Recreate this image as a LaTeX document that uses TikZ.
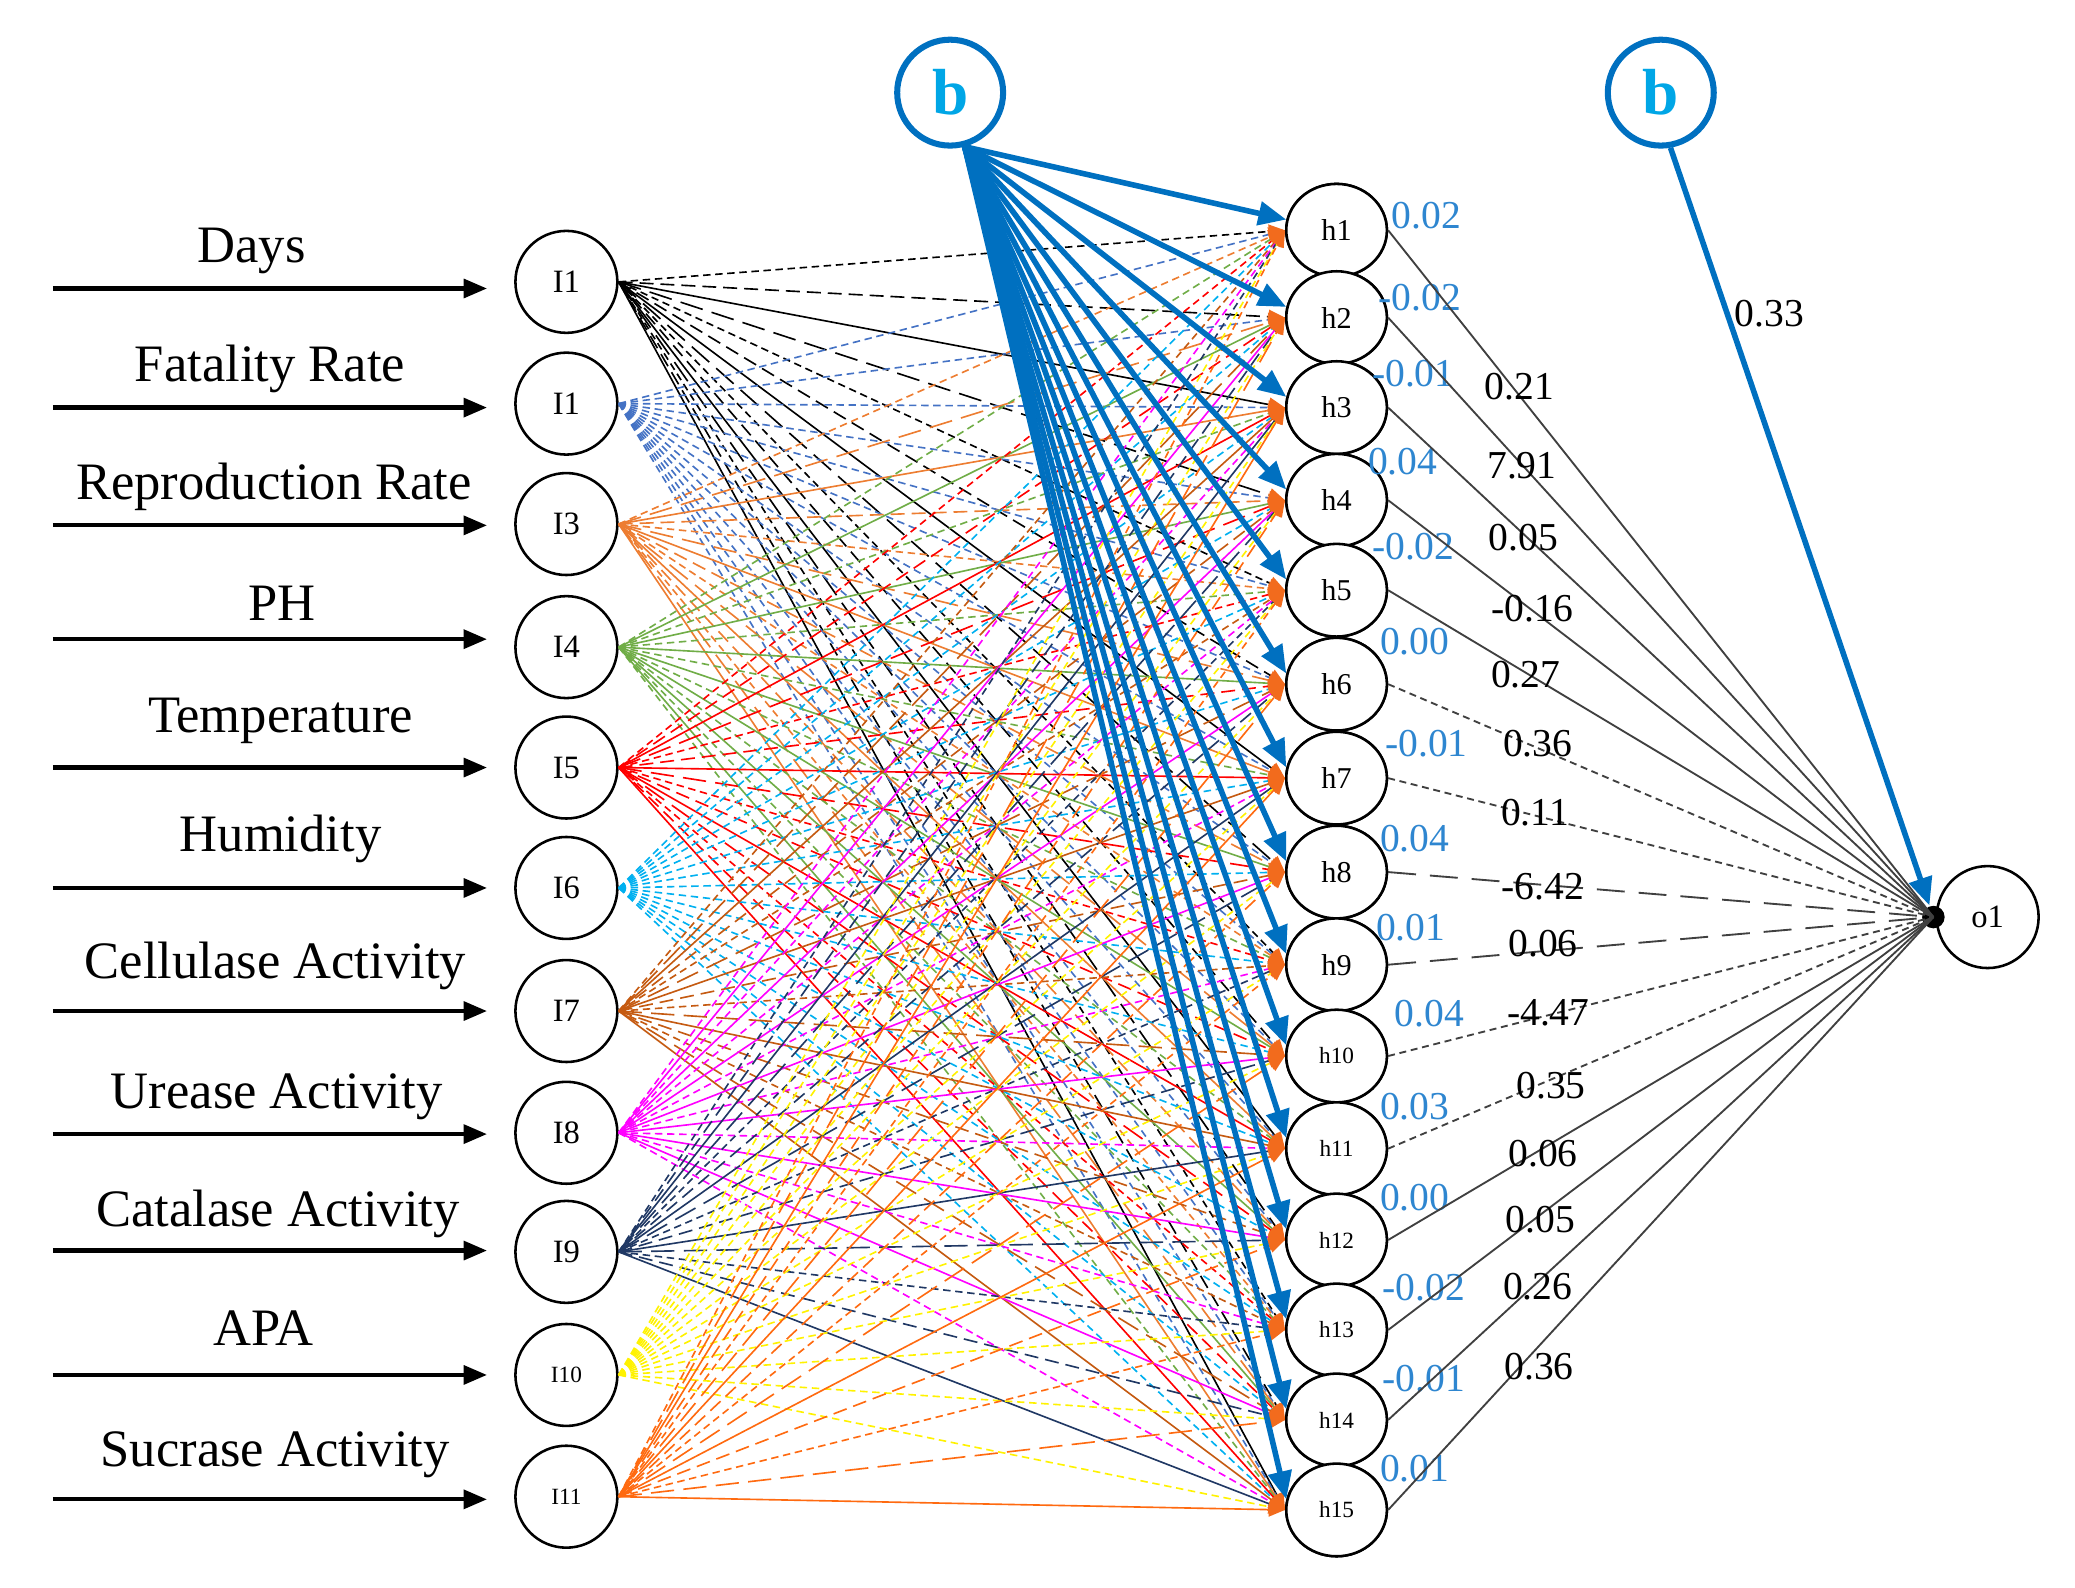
\documentclass[tikz,border=0pt]{standalone}
\usepackage{fontspec}
\setmainfont{Liberation Serif}
\usetikzlibrary{arrows.meta,shapes.geometric}
\definecolor{c1}{HTML}{000000}
\definecolor{c2}{HTML}{4472C4}
\definecolor{c3}{HTML}{ED7D31}
\definecolor{c4}{HTML}{70AD47}
\definecolor{c5}{HTML}{FF0000}
\definecolor{c6}{HTML}{00B0F0}
\definecolor{c7}{HTML}{C55A11}
\definecolor{c8}{HTML}{FF00FF}
\definecolor{c9}{HTML}{203864}
\definecolor{c10}{HTML}{FFF200}
\definecolor{c11}{HTML}{FF6A10}
\definecolor{tiporange}{HTML}{F26B1D}
\definecolor{bblue}{HTML}{0070C0}
\definecolor{bcyan}{HTML}{00A6E6}
\definecolor{wblue}{HTML}{2E86D0}
\definecolor{ogray}{HTML}{404040}
\begin{document}
\begin{tikzpicture}[x=0.01cm,y=-0.01cm,
  inp/.style={circle,draw,line width=0.55pt,minimum size=0.77cm,inner sep=0pt,font=\fontsize{7}{7}\selectfont},
  hid/.style={ellipse,draw,line width=0.55pt,minimum width=0.76cm,minimum height=0.70cm,inner sep=0pt,fill=white,font=\fontsize{6.5}{6.5}\selectfont},
  hids/.style={hid,font=\fontsize{5}{5}\selectfont},
  bias/.style={circle,draw=bblue,line width=1.3pt,minimum size=0.80cm,inner sep=0pt,text=bcyan,font=\fontsize{14}{14}\selectfont\bfseries},
  lab/.style={font=\fontsize{11.3}{11.3}\selectfont,inner sep=0pt},
  inarrow/.style={line width=0.9pt,-{Triangle[length=5pt,width=4pt]}},
  wire/.style={line width=0.35pt,-{Triangle[length=3.5pt,width=3pt,color=tiporange]}},
  bline/.style={draw=bblue,line width=1.2pt,-{Triangle[length=6pt,width=5pt]}},
  oline/.style={draw=ogray,line width=0.4pt},
  hw/.style={text=wblue,font=\fontsize{8.5}{8.5}\selectfont,inner sep=0pt},
  ow/.style={font=\fontsize{8.5}{8.5}\selectfont,inner sep=0pt},
  d0/.style={solid},
  d1/.style={dash pattern=on 3pt off 1.5pt},
  d2/.style={dash pattern=on 1.6pt off 1pt},
  d3/.style={dash pattern=on 5pt off 2pt},
  od/.style={dash pattern=on 1.5pt off 1pt},
  old/.style={dash pattern=on 6pt off 3pt}
]
\useasboundingbox (0,0) rectangle (1568,1200);

% input nodes
\node[inp] (I1) at (428,213) {I1};
\node[inp] (I2) at (428,305) {I1};
\node[inp] (I3) at (428,396) {I3};
\node[inp] (I4) at (428,489) {I4};
\node[inp] (I5) at (428,580) {I5};
\node[inp] (I6) at (428,671) {I6};
\node[inp] (I7) at (428,764) {I7};
\node[inp] (I8) at (428,856) {I8};
\node[inp] (I9) at (428,946) {I9};
\node[inp,font=\fontsize{5}{5}\selectfont] (I10) at (428,1039) {I10};
\node[inp,font=\fontsize{5}{5}\selectfont] (I11) at (428,1131) {I11};

% input labels
\node[lab] (t1) at (190,190) {Days};
\node[lab] (t2) at (204,279) {Fatality Rate};
\node[lab] (t3) at (207,368) {Reproduction Rate};
\node[lab] (t4) at (213,456) {PH};
\node[lab] (t5) at (212,545) {Temperature};
\node[lab] (t6) at (212,634) {Humidity};
\node[lab] (t7) at (208,730) {Cellulase Activity};
\node[lab] (t8) at (209,829) {Urease Activity};
\node[lab] (t9) at (210,917) {Catalase Activity};
\node[lab] (t10) at (199,1004) {APA};
\node[lab] (t11) at (208,1099) {Sucrase Activity};

% input arrows
\foreach \i/\y in {1/218,2/308,3/397,4/483,5/580,6/671,7/764,8/857,9/945,10/1039,11/1133}{
  \coordinate (s\i) at (40,\y);
  \coordinate (e\i) at (368,\y);
  \draw[inarrow] (s\i) -- (e\i);
}

% hidden nodes
\foreach \j/\y in {1/174,2/240,3/308,4/378,5/446,6/517,7/588,8/659,9/729}{
  \node[hid] (h\j) at (1010,\y) {h\j};
}
\foreach \j/\y in {10/798,11/868,12/937,13/1005,14/1073,15/1141}{
  \node[hids] (h\j) at (1010,\y) {h\j};
}

% input -> hidden wires
\foreach \i in {1,...,11}{
  \foreach \j in {1,...,15}{
    \pgfmathtruncatemacro\k{mod(3*\i+2*\j+\i*\j,4)}
    \draw[wire,draw=c\i,d\k] (I\i.east) -- (h\j.west);
  }
}

% bias nodes
\node[bias] (b1) at (718,70) {b};
\node[bias] (b2) at (1255,70) {b};
\foreach \j in {1,...,15}{
  \draw[bline] (b1.-75) -- (h\j.168);
}

% redraw hidden nodes on top
\foreach \j/\y in {1/174,2/240,3/308,4/378,5/446,6/517,7/588,8/659,9/729}{
  \node[hid] at (h\j) {h\j};
}
\foreach \j/\y in {10/798,11/868,12/937,13/1005,14/1073,15/1141}{
  \node[hids] at (h\j) {h\j};
}

% hidden bias weights
\node[hw] (w1) at (1078,163) {0.02};
\node[hw] (w2) at (1073,225) {-0.02};
\node[hw] (w3) at (1068,282) {-0.01};
\node[hw] (w4) at (1060,349) {0.04};
\node[hw] (w5) at (1068,413) {-0.02};
\node[hw] (w6) at (1069,485) {0.00};
\node[hw] (w7) at (1078,562) {-0.01};
\node[hw] (w8) at (1069,634) {0.04};
\node[hw] (w9) at (1066,701) {0.01};
\node[hw] (w10) at (1080,766) {0.04};
\node[hw] (w11) at (1069,836) {0.03};
\node[hw] (w12) at (1069,905) {0.00};
\node[hw] (w13) at (1076,973) {-0.02};
\node[hw] (w14) at (1076,1042) {-0.01};
\node[hw] (w15) at (1069,1110) {0.01};

% output
\node[circle,fill=black,minimum size=0.17cm,inner sep=0pt] (dot) at (1461,693) {};
\node[inp] (o1) at (1502,693) {o1};

\foreach \j/\s in {1/d0,2/d0,3/d0,4/d0,5/d0,6/od,7/od,8/old,9/old,10/od,11/od,12/d0,13/d0,14/d0,15/d0}{
  \draw[oline,\s] (h\j.east) -- (dot.center);
}

% output weights
\node[ow] (v1) at (1148,292) {0.21};
\node[ow] (v2) at (1150,352) {7.91};
\node[ow] (v3) at (1151,406) {0.05};
\node[ow] (v4) at (1158,460) {-0.16};
\node[ow] (v5) at (1153,510) {0.27};
\node[ow] (v6) at (1162,562) {0.36};
\node[ow] (v7) at (1160,614) {0.11};
\node[ow] (v8) at (1166,670) {-6.42};
\node[ow] (v9) at (1166,713) {0.06};
\node[ow] (v10) at (1170,765) {-4.47};
\node[ow] (v11) at (1172,820) {0.35};
\node[ow] (v12) at (1166,872) {0.06};
\node[ow] (v13) at (1164,922) {0.05};
\node[ow] (v14) at (1162,972) {0.26};
\node[ow] (v15) at (1163,1033) {0.36};

\draw[bline] (b2.-80) -- (dot);
\node[ow] (v0) at (1337,237) {0.33};
\end{tikzpicture}
\end{document}
